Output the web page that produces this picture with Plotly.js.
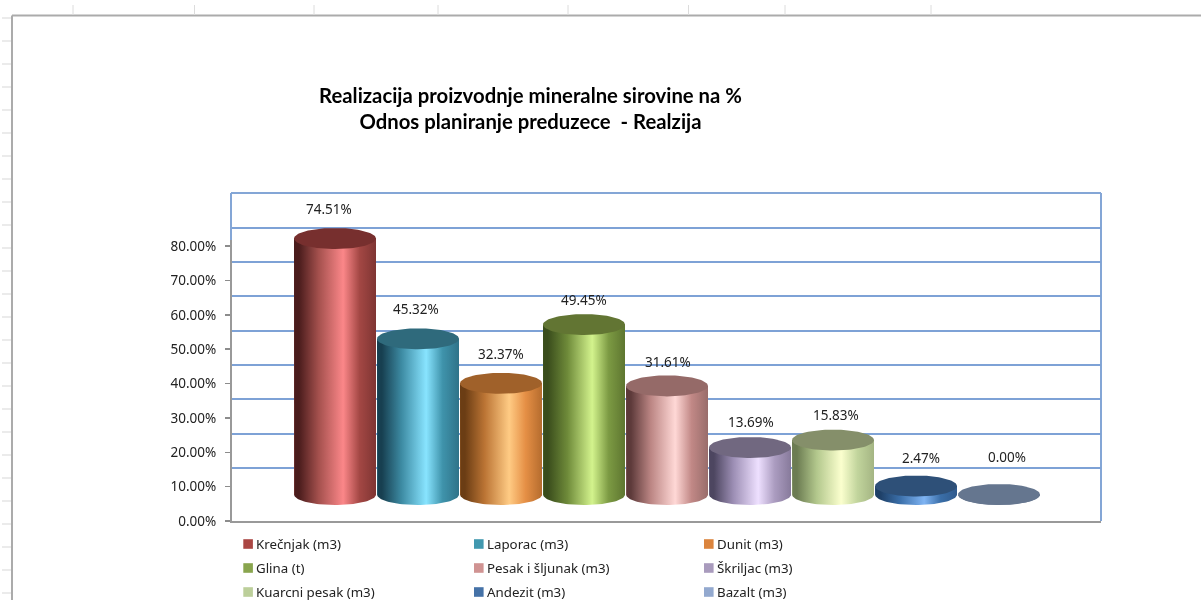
<!DOCTYPE html>
<html>
<head>
<meta charset="utf-8">
<script src="https://cdn.plot.ly/plotly-3.0.1.min.js"></script>
<style>html,body{margin:0;padding:0;background:#fff;overflow:hidden}#chart{width:1201px;height:600px;filter:blur(0.35px)}</style>
</head>
<body>
<div id="chart"></div>
<script>
// ---- data ----
const seriesNames = ['Krečnjak (m3)','Laporac (m3)','Dunit (m3)','Glina (t)','Pesak i šljunak (m3)','Škriljac (m3)','Kuarcni pesak (m3)','Andezit (m3)','Bazalt (m3)'];
const seriesValues = [74.51,45.32,32.37,49.45,31.61,13.69,15.83,2.47,0.00];
const axisTicks = [0,10,20,30,40,50,60,70,80];
const wallGridLevels = [15.4,25.4,35.4,45.4,55.4,65.4,75.4,85.3];
// ---- styles ----
const legendColors = ['#aa4643','#4198af','#db843d','#89a54e','#d09392','#a99bbd','#bccf9a','#4572a7','#93a9cf'];
const capColors = ['#772f2e','#2f6a7c','#a0612a','#627533','#956a68','#716880','#858f6a','#2e5078','#65768f'];
const edgeDark = ['#4a1c1c','#173f50','#6b3d14','#3a4d1c','#5d3a3a','#4d4660','#6c7c52','#1e3f66','#65768f'];
const midDark = ['#a4504d','#3d8ba3','#bb7434','#6f8b3a','#bb8583','#9d8fb5','#b2c78c','#3a6ea8','#65768f'];
const highlight = ['#fb8789','#88e4ff','#ffcb84','#d3f38d','#ffd8d6','#eee0ff','#fbffce','#7fb4f3','#65768f'];
const midRight = ['#a34744','#3f93ab','#e58f45','#7c9a43','#c18886','#ab9cc0','#c1d49c','#3a6ea8','#65768f'];
const edgeRight = ['#7f3533','#2f7389','#b56c2e','#5e7630','#996d6b','#877a9b','#a4b583','#2f5a8d','#65768f'];
const labelShiftX = [-6,-2,0,0,1,1,3,5,8];
const labelShiftY = [29.5,29.5,29,24.6,24,25,25,28,38];

// ---- page geometry (reference pixels) ----
const W=1201,H=600,L=232,R=1101,T=193,B=521;
const pxPerUnit=3.436, barBasePx=494.5, catStep=83, firstCat=335;
const halfW=41/catStep, capH=10.5/pxPerUnit;
const px=x=>(x-L)/(R-L), py=y=>(B-y)/(B-T);

const indices = seriesValues.map((_,i)=>i);
const traces = [];
// real bars, on the shifted value axis of the 3-D floor
traces.push({type:'bar',x:indices,y:seriesValues,width:halfW*2,xaxis:'x',yaxis:'y3',
  marker:{color:midDark,line:{width:0}},showlegend:false,hoverinfo:'skip'});

const STEPS=48;
seriesValues.forEach((v,i)=>{
  const bx=[i-halfW],by=[v];
  for(let k=0;k<=STEPS;k++){
    const a=Math.PI*k/STEPS;
    bx.push(i-halfW*Math.cos(a)); by.push(-capH*Math.sin(a));
  }
  bx.push(i+halfW); by.push(v);
  traces.push({type:'scatter',mode:'lines',x:bx,y:by,xaxis:'x',yaxis:'y3',fill:'toself',line:{width:0},
    fillgradient:{type:'horizontal',colorscale:[[0,edgeDark[i]],[0.06,edgeDark[i]],[0.3,midDark[i]],[0.6,highlight[i]],[0.8,midRight[i]],[1,edgeRight[i]]]},
    showlegend:false,hoverinfo:'skip'});
  const cx=[],cy=[];
  for(let k=0;k<=STEPS*2;k++){
    const a=Math.PI*k/STEPS;
    cx.push(i+halfW*Math.cos(a)); cy.push(v+capH*Math.sin(a));
  }
  traces.push({type:'scatter',mode:'lines',x:cx,y:cy,xaxis:'x',yaxis:'y3',fill:'toself',fillcolor:capColors[i],line:{width:0},showlegend:false,hoverinfo:'skip'});
});
// helpers so the tick axis and wall-grid axis are always laid out
traces.push({type:'scatter',mode:'none',x:[0],y:[0],xaxis:'x',yaxis:'y',showlegend:false,hoverinfo:'skip'});
traces.push({type:'scatter',mode:'none',x:[0],y:[wallGridLevels[0]],xaxis:'x',yaxis:'y2',showlegend:false,hoverinfo:'skip'});

const font='"Noto Sans", sans-serif';
const rangeTop=(B-T)/pxPerUnit;
const annotations = seriesValues.map((v,i)=>({
  x:i,y:v,xref:'x',yref:'y3',text:v.toFixed(2)+'%',showarrow:false,xanchor:'center',yanchor:'middle',
  xshift:labelShiftX[i],yshift:labelShiftY[i],font:{family:font,size:13.5,color:'#222'}
}));

const shapes=[];
const grey='#ababab';
// worksheet frame and cell-border stubs
shapes.push({type:'line',xref:'paper',yref:'paper',x0:px(12),x1:px(1201),y0:py(15.5),y1:py(15.5),line:{color:grey,width:2}});
shapes.push({type:'line',xref:'paper',yref:'paper',x0:px(12),x1:px(12),y0:py(15.5),y1:py(600),line:{color:grey,width:2}});
[73,194.5,314,438,568,688.5,785,931].forEach(x=>shapes.push({type:'line',xref:'paper',yref:'paper',x0:px(x),x1:px(x),y0:py(5),y1:py(15),line:{color:'#dcdcdc',width:1}}));
for(let y=18;y<600;y+=23){shapes.push({type:'line',xref:'paper',yref:'paper',x0:px(2),x1:px(11),y0:py(y),y1:py(y),line:{color:'#e4e4e4',width:1.5}});}
// wall edges
const wallBlue='#84a6d6';
shapes.push({type:'line',xref:'paper',yref:'paper',x0:px(231),x1:1,y0:1,y1:1,layer:'below',line:{color:wallBlue,width:2}});
shapes.push({type:'line',xref:'paper',yref:'paper',x0:1,x1:1,y0:0,y1:1,layer:'below',line:{color:wallBlue,width:2}});
shapes.push({type:'line',xref:'paper',yref:'paper',x0:px(231),x1:px(231),y0:py(240),y1:1,line:{color:wallBlue,width:2}});
// legend
const colX=[243.3,474,704], rowY=[544,568,592];
seriesNames.forEach((n,i)=>{
  const cx=colX[i%3], cy=rowY[Math.floor(i/3)];
  shapes.push({type:'rect',xref:'paper',yref:'paper',x0:px(cx),x1:px(cx+9.6),y0:py(cy-4.8),y1:py(cy+4.8),fillcolor:legendColors[i],line:{width:0}});
  annotations.push({xref:'paper',yref:'paper',x:px(cx+10.5),y:py(cy-0.5),text:n,showarrow:false,xanchor:'left',yanchor:'middle',font:{family:font,size:13.3,color:'#222'}});
});

const layout={
  width:W,height:H,margin:{l:L,r:W-R,t:T,b:H-B,autoexpand:false},
  paper_bgcolor:'#fff',plot_bgcolor:'#fff',showlegend:false,bargap:0,
  title:{text:'Realizacija proizvodnje mineralne sirovine na %<br>Odnos planiranje preduzece  - Realzija',
    x:530.5/W,xanchor:'center',y:1-103/H,yanchor:'top',font:{family:'Lato, sans-serif',size:20.3,color:'#000',weight:700}},
  xaxis:{type:'linear',range:[(L-firstCat)/catStep,(R-firstCat)/catStep],showticklabels:false,ticks:'',showgrid:false,zeroline:false,showline:true,linecolor:'#999',linewidth:2,fixedrange:true},
  yaxis:{range:[0,rangeTop],tickmode:'array',tickvals:axisTicks,ticktext:axisTicks.map(t=>t.toFixed(2)+'%'),ticks:'outside',ticklen:5,tickwidth:1.5,tickcolor:'#8c8c8c',ticklabelstandoff:6,
    tickfont:{family:font,size:13.5,color:'#222'},showgrid:false,zeroline:false,showline:true,linecolor:'#999',linewidth:2,fixedrange:true},
  yaxis2:{overlaying:'y',range:[0,rangeTop],tickmode:'array',tickvals:wallGridLevels,showticklabels:false,ticks:'',showgrid:true,gridcolor:'#7ea2d6',gridwidth:2,zeroline:false,showline:false,fixedrange:true},
  yaxis3:{overlaying:'y',range:[-(B-barBasePx)/pxPerUnit,(barBasePx-T)/pxPerUnit],showticklabels:false,ticks:'',showgrid:false,zeroline:false,showline:false,fixedrange:true},
  shapes:shapes,annotations:annotations
};
Plotly.newPlot('chart',traces,layout,{displayModeBar:false,staticPlot:true});
</script>
</body>
</html>
